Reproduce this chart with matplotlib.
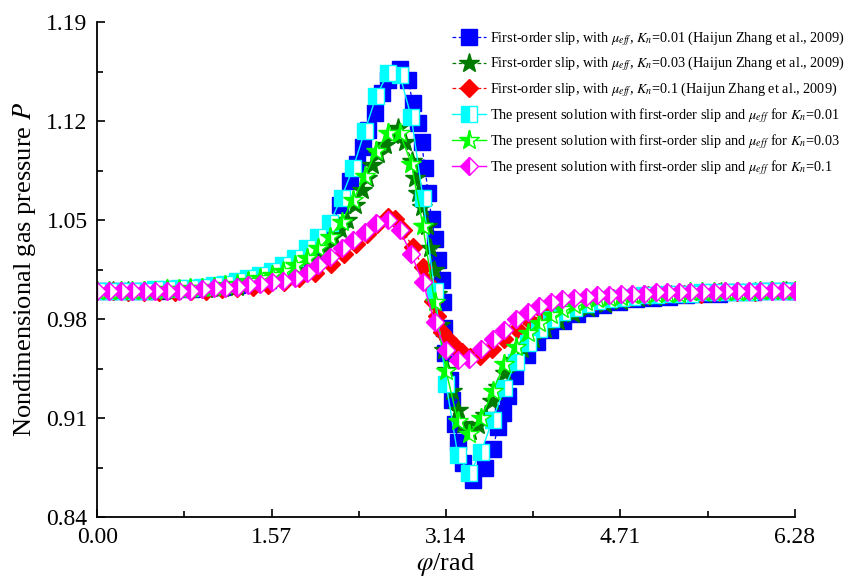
import numpy as np
import matplotlib
matplotlib.use('Agg')
import matplotlib.pyplot as plt

plt.rcParams['font.family'] = ['Liberation Serif', 'DejaVu Serif']
plt.rcParams['mathtext.fontset'] = 'stix'

# Haijun Zhang et al. 2009 (reference curves, non uniform points)
x_ref001 = [0.00, 0.14, 0.28, 0.42, 0.56, 0.70, 0.84, 0.98, 1.12, 1.26, 1.40, 1.54, 1.68, 1.82, 1.96,
            2.10, 2.19, 2.28, 2.34, 2.39, 2.44, 2.50, 2.56, 2.62, 2.73, 2.80, 2.84, 2.89, 2.92, 2.95,
            2.98, 3.01, 3.04, 3.07, 3.10, 3.11, 3.12, 3.13, 3.18, 3.19, 3.22, 3.25, 3.29, 3.38, 3.49,
            3.56, 3.61, 3.65, 3.70, 3.76, 3.87, 3.96, 4.08, 4.19, 4.32, 4.44, 4.55, 4.70, 4.85, 5.00,
            5.15, 5.30, 5.45, 5.60, 5.75, 5.90, 6.05, 6.20, 6.28]
p_ref001 = [1.000, 1.000, 1.000, 1.000, 1.000, 1.001, 1.001, 1.002, 1.003, 1.004, 1.006, 1.008, 1.012, 1.018, 1.028,
            1.044, 1.061, 1.078, 1.090, 1.102, 1.114, 1.126, 1.140, 1.149, 1.157, 1.149, 1.133, 1.119, 1.105, 1.087,
            1.069, 1.051, 1.037, 1.022, 1.008, 0.992, 0.974, 0.956, 0.937, 0.923, 0.906, 0.893, 0.878, 0.866, 0.875,
            0.888, 0.904, 0.914, 0.926, 0.940, 0.955, 0.964, 0.972, 0.979, 0.984, 0.988, 0.990, 0.992, 0.994, 0.995,
            0.996, 0.997, 0.998, 0.998, 0.999, 0.999, 1.000, 1.000, 1.000]

x_ref003 = [0.00, 0.14, 0.28, 0.42, 0.56, 0.70, 0.84, 0.98, 1.12, 1.26, 1.40, 1.54, 1.68, 1.82, 1.96,
            2.05, 2.12, 2.19, 2.25, 2.32, 2.38, 2.43, 2.47, 2.53, 2.59, 2.65, 2.71, 2.77, 2.83, 2.86,
            2.89, 2.92, 2.97, 3.00, 3.03, 3.06, 3.09, 3.12, 3.15, 3.19, 3.25, 3.29, 3.36, 3.43, 3.49,
            3.55, 3.61, 3.67, 3.74, 3.82, 3.92, 4.03, 4.15, 4.28, 4.42, 4.57, 4.72, 4.87, 5.02, 5.17,
            5.32, 5.47, 5.62, 5.77, 5.92, 6.07, 6.20, 6.28]
p_ref003 = [1.000, 1.000, 1.000, 1.000, 1.000, 1.000, 1.001, 1.001, 1.002, 1.003, 1.005, 1.007, 1.010, 1.015, 1.023,
            1.031, 1.038, 1.044, 1.050, 1.061, 1.071, 1.080, 1.089, 1.097, 1.103, 1.110, 1.115, 1.105, 1.092, 1.080,
            1.069, 1.059, 1.046, 1.030, 1.015, 0.998, 0.976, 0.958, 0.944, 0.929, 0.916, 0.906, 0.901, 0.905, 0.912,
            0.922, 0.932, 0.942, 0.951, 0.959, 0.966, 0.973, 0.979, 0.984, 0.988, 0.991, 0.993, 0.995, 0.996, 0.997,
            0.998, 0.998, 0.999, 0.999, 0.999, 1.000, 1.000, 1.000]

x_ref01 = [0.00, 0.14, 0.28, 0.42, 0.56, 0.70, 0.84, 0.98, 1.12, 1.26, 1.40, 1.54, 1.68, 1.82, 1.96,
           2.10, 2.22, 2.33, 2.43, 2.52, 2.62, 2.68, 2.75, 2.84, 2.93, 2.97, 3.02, 3.06, 3.10, 3.16,
           3.22, 3.28, 3.36, 3.45, 3.55, 3.66, 3.78, 3.90, 4.03, 4.17, 4.32, 4.48, 4.64, 4.80, 4.96,
           5.12, 5.28, 5.44, 5.60, 5.76, 5.92, 6.08, 6.28]
p_ref01 = [1.000, 1.000, 0.999, 0.999, 0.999, 0.999, 1.000, 1.000, 1.001, 1.002, 1.003, 1.004, 1.006, 1.009, 1.013,
           1.019, 1.026, 1.033, 1.040, 1.047, 1.052, 1.051, 1.043, 1.031, 1.017, 1.006, 0.993, 0.982, 0.971, 0.966,
           0.961, 0.957, 0.953, 0.954, 0.959, 0.966, 0.973, 0.979, 0.984, 0.988, 0.991, 0.993, 0.995, 0.996, 0.997,
           0.998, 0.998, 0.998, 0.999, 0.999, 0.999, 1.000, 1.000]

# present solution, 61 points from 0 to 2pi
x_pre = np.linspace(0, 2 * np.pi, 61)
p_pre001 = [1.000, 1.000, 1.000, 1.000, 1.000, 1.001, 1.001, 1.002, 1.002, 1.003,
            1.004, 1.005, 1.007, 1.009, 1.011, 1.014, 1.018, 1.023, 1.030, 1.038,
            1.048, 1.066, 1.087, 1.113, 1.138, 1.154, 1.153, 1.123, 1.066, 1.000,
            0.934, 0.884, 0.871, 0.886, 0.909, 0.931, 0.950, 0.963, 0.973, 0.980,
            0.985, 0.988, 0.991, 0.993, 0.994, 0.995, 0.996, 0.997, 0.997, 0.998,
            0.998, 0.998, 0.999, 0.999, 0.999, 0.999, 0.999, 1.000, 1.000, 1.000, 1.000]
p_pre003 = [1.000, 1.000, 1.000, 1.000, 1.000, 1.000, 1.001, 1.001, 1.002, 1.002,
            1.003, 1.004, 1.005, 1.007, 1.009, 1.011, 1.014, 1.018, 1.023, 1.030,
            1.038, 1.049, 1.064, 1.081, 1.099, 1.112, 1.112, 1.090, 1.046, 0.992,
            0.943, 0.908, 0.899, 0.910, 0.929, 0.948, 0.960, 0.970, 0.977, 0.983,
            0.987, 0.990, 0.992, 0.994, 0.995, 0.996, 0.997, 0.997, 0.998, 0.998,
            0.998, 0.999, 0.999, 0.999, 0.999, 0.999, 0.999, 1.000, 1.000, 1.000, 1.000]
p_pre01 = [1.000, 1.000, 1.000, 1.000, 1.000, 1.000, 1.000, 1.000, 1.000, 1.001,
           1.002, 1.002, 1.003, 1.004, 1.005, 1.006, 1.007, 1.009, 1.013, 1.018,
           1.024, 1.030, 1.036, 1.042, 1.048, 1.050, 1.043, 1.026, 1.006, 0.978,
           0.958, 0.951, 0.952, 0.959, 0.966, 0.972, 0.980, 0.985, 0.989, 0.992,
           0.994, 0.995, 0.996, 0.997, 0.997, 0.998, 0.998, 0.998, 0.999, 0.999,
           0.999, 0.999, 0.999, 0.999, 1.000, 1.000, 1.000, 1.000, 1.000, 1.000, 1.000]

x_ticks = [0.00, 1.57, 3.14, 4.71, 6.28]
y_ticks = [0.84, 0.91, 0.98, 1.05, 1.12, 1.19]

labels = [r'First-order slip, with $\mu_{eff}$, $K_n$=0.01 (Haijun Zhang et al., 2009)',
          r'First-order slip, with $\mu_{eff}$, $K_n$=0.03 (Haijun Zhang et al., 2009)',
          r'First-order slip, with $\mu_{eff}$, $K_n$=0.1 (Haijun Zhang et al., 2009)',
          r'The present solution with first-order slip and $\mu_{eff}$ for $K_n$=0.01',
          r'The present solution with first-order slip and $\mu_{eff}$ for $K_n$=0.03',
          r'The present solution with first-order slip and $\mu_{eff}$ for $K_n$=0.1']

fig = plt.figure(figsize=(8.61, 5.85), dpi=100)
ax = fig.add_axes([0.113, 0.116, 0.810, 0.846])

# reference curves: dashed line + filled markers
ax.plot(x_ref001, p_ref001, '--s', color='#0000ff', ms=11.5, lw=0.9, dashes=(3, 2), label=labels[0])
ax.plot(x_ref003, p_ref003, '--*', color='#007a00', ms=15, lw=0.9, dashes=(3, 2), label=labels[1])
ax.plot(x_ref01, p_ref01, '--D', color='#ff0000', ms=9.5, lw=0.9, dashes=(3, 2), label=labels[2])

# present solution: solid line + half filled markers
ax.plot(x_pre, p_pre001, '-s', color='#00ffff', ms=11.5, lw=1.0, fillstyle='left',
        markerfacecoloralt='white', markeredgecolor='#00ffff', label=labels[3])
ax.plot(x_pre, p_pre003, '-*', color='#00ff00', ms=15, lw=1.0, fillstyle='left',
        markerfacecoloralt='white', markeredgecolor='#00ff00', label=labels[4])
ax.plot(x_pre, p_pre01, '-D', color='#ff00ff', ms=9.5, lw=1.0, fillstyle='left',
        markerfacecoloralt='white', markeredgecolor='#ff00ff', label=labels[5])

ax.set_xlim(0, 6.28)
ax.set_ylim(0.84, 1.19)
ax.set_xticks(x_ticks)
ax.set_xticklabels(['%.2f' % v for v in x_ticks])
ax.set_yticks(y_ticks)
ax.set_yticklabels(['%.2f' % v for v in y_ticks])
ax.set_xticks([0.785, 2.355, 3.925, 5.495], minor=True)
ax.set_yticks([0.875, 0.945, 1.015, 1.085, 1.155], minor=True)
ax.tick_params(which='major', direction='in', length=6, width=1.2, labelsize=17, pad=7)
ax.tick_params(which='minor', direction='in', length=4, width=1.2)
ax.spines['top'].set_visible(False)
ax.spines['right'].set_visible(False)
ax.spines['left'].set_linewidth(1.3)
ax.spines['bottom'].set_linewidth(1.3)

ax.set_xlabel(r'$\varphi$/rad', fontsize=19, labelpad=2)
ax.set_ylabel(r'Nondimensional gas pressure $P$', fontsize=19, labelpad=6)

# legend sits partly outside the axes, so anchor it to the figure
fig.legend(loc='upper left', bbox_to_anchor=(0.518, 0.96), frameon=False, fontsize=10.3,
           handlelength=2.4, labelspacing=0.5, handletextpad=0.3, borderaxespad=0)

plt.savefig('out.png', dpi=100)
